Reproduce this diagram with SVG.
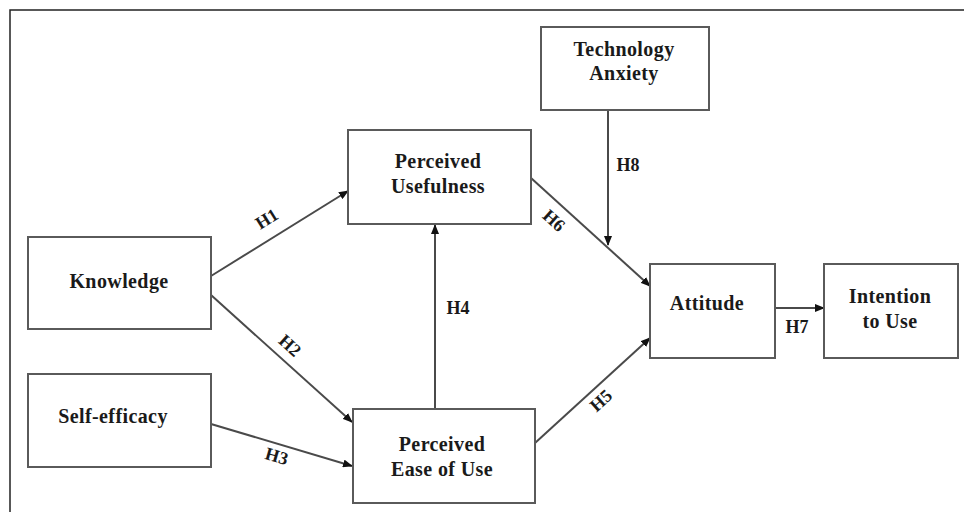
<svg xmlns="http://www.w3.org/2000/svg" width="964" height="512" viewBox="0 0 964 512">
<defs>
<marker id="ah" markerWidth="10" markerHeight="8" refX="9" refY="4" orient="auto" markerUnits="userSpaceOnUse">
<path d="M0,0 L10,4 L0,8 Z" fill="#111"/>
</marker>
<style>
.box{fill:#fff;stroke:#5a5a5a;stroke-width:2}
.t{font-family:"Liberation Serif","Times New Roman",serif;font-weight:bold;font-size:20px;fill:#1a1a1a;text-anchor:middle;letter-spacing:0.4px}
.lbl{font-family:"Liberation Serif","Times New Roman",serif;font-weight:bold;font-size:18px;fill:#1a1a1a;text-anchor:middle}
.c{stroke:#4a4a4a;stroke-width:2;fill:none;marker-end:url(#ah)}
</style>
</defs>
<rect width="964" height="512" fill="#fff"/>
<path d="M10,512 L10,10 L964,10" fill="none" stroke="#222" stroke-width="1.5"/>
<g id="connectors">
<line class="c" x1="211" y1="276" x2="348" y2="191"/>
<line class="c" x1="211" y1="295" x2="352" y2="422"/>
<line class="c" x1="211" y1="424" x2="352" y2="466"/>
<line class="c" x1="435" y1="409" x2="435" y2="225"/>
<line class="c" x1="535" y1="443" x2="650" y2="338"/>
<line class="c" x1="531" y1="178" x2="650" y2="286"/>
<line class="c" x1="608" y1="110" x2="608" y2="245"/>
<line class="c" x1="775" y1="308" x2="824" y2="308"/>
<text class="lbl" transform="translate(270,224) rotate(-32)">H1</text>
<text class="lbl" transform="translate(286,350) rotate(42)">H2</text>
<text class="lbl" transform="translate(275,462) rotate(16)">H3</text>
<text class="lbl" x="458" y="314">H4</text>
<text class="lbl" transform="translate(605,405) rotate(-42)">H5</text>
<text class="lbl" transform="translate(550,225) rotate(42)">H6</text>
<text class="lbl" x="628" y="171">H8</text>
<text class="lbl" x="797" y="333">H7</text>
</g>
<g id="technology-anxiety">
<rect class="box" x="541" y="27" width="168" height="83"/>
<text class="t" x="624" y="56">Technology</text>
<text class="t" x="624" y="80">Anxiety</text>
</g>
<g id="perceived-usefulness">
<rect class="box" x="348" y="130" width="183" height="94"/>
<text class="t" x="438" y="168">Perceived</text>
<text class="t" x="438" y="193">Usefulness</text>
</g>
<g id="knowledge">
<rect class="box" x="28" y="237" width="183" height="92"/>
<text class="t" x="119" y="288">Knowledge</text>
</g>
<g id="self-efficacy">
<rect class="box" x="28" y="374" width="183" height="93"/>
<text class="t" x="113" y="423">Self-efficacy</text>
</g>
<g id="perceived-ease-of-use">
<rect class="box" x="353" y="409" width="182" height="94"/>
<text class="t" x="442" y="451">Perceived</text>
<text class="t" x="442" y="476">Ease of Use</text>
</g>
<g id="attitude">
<rect class="box" x="650" y="264" width="125" height="94"/>
<text class="t" x="707" y="310">Attitude</text>
</g>
<g id="intention-to-use">
<rect class="box" x="824" y="264" width="134" height="94"/>
<text class="t" x="890" y="303">Intention</text>
<text class="t" x="890" y="328">to Use</text>
</g>
</svg>
